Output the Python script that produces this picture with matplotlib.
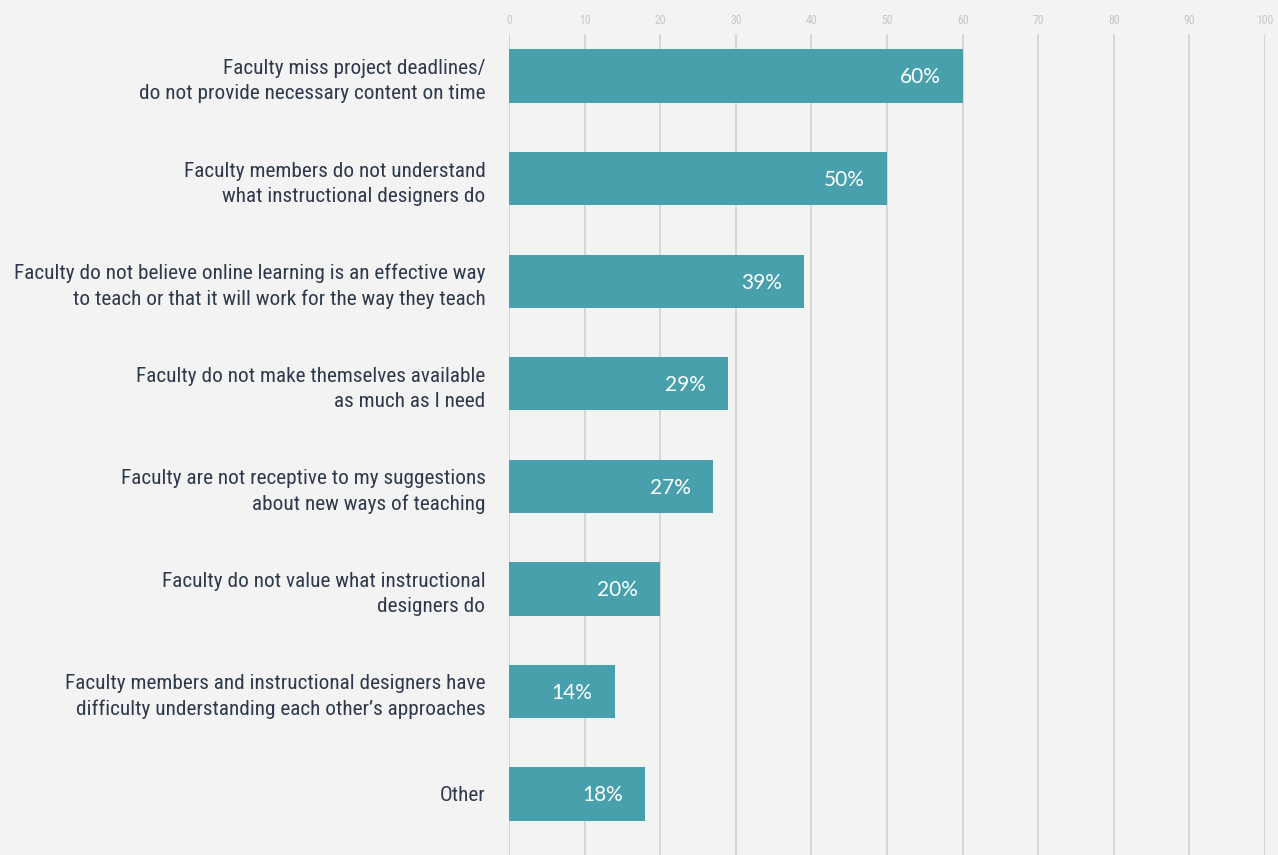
import matplotlib.pyplot as plt
from matplotlib import font_manager

labels = [
    "Faculty miss project deadlines/\ndo not provide necessary content on time",
    "Faculty members do not understand\nwhat instructional designers do",
    "Faculty do not believe online learning is an effective way\nto teach or that it will work for the way they teach",
    "Faculty do not make themselves available\nas much as I need",
    "Faculty are not receptive to my suggestions\nabout new ways of teaching",
    "Faculty do not value what instructional\ndesigners do",
    "Faculty members and instructional designers have\ndifficulty understanding each other\u2019s approaches",
    "Other",
]
values = [60, 50, 39, 29, 27, 20, 14, 18]
ticks = list(range(0, 101, 10))

bg = "#f3f3f3"
bar_color = "#48a0ac"
text_color = "#2e3a4b"
grid_color = "#d2d6d7"

# pick a narrow face for the category labels
names = {f.name for f in font_manager.fontManager.ttflist}
narrow = ["Roboto Condensed", "Liberation Sans Narrow", "Archivo Narrow",
          "PT Sans Narrow", "Open Sans Condensed", "Pragati Narrow"]
label_font = next((n for n in narrow if n in names), "Roboto")
value_font = "Lato" if "Lato" in names else "DejaVu Sans"

fig = plt.figure(figsize=(12.78, 8.55), dpi=100, facecolor=bg)
ax = fig.add_axes([509 / 1278, 0.0, (1265 - 509) / 1278, 1 - 34 / 855])
ax.set_facecolor(bg)

ypos = list(range(len(values)))
ax.barh(ypos, values, height=0.52, color=bar_color, zorder=3)

for y, v in zip(ypos, values):
    ax.annotate(f"{v}%", (v, y), xytext=(-16, -1), textcoords="offset points",
                ha="right", va="center", color="white", fontsize=15,
                family=value_font, zorder=4)

ax.set_xlim(0, 100)
ax.set_ylim(7.595, -0.41)
ax.set_xticks(ticks)
ax.set_xticklabels([str(t) for t in ticks], family=label_font)
ax.xaxis.tick_top()
ax.tick_params(axis="x", length=0, pad=5, labelsize=8.5, labelcolor="#c3c8ca")
ax.set_yticks(ypos)
ax.set_yticklabels(labels, family=label_font, fontsize=17, color=text_color,
                   linespacing=1.4)
ax.tick_params(axis="y", length=0, pad=17)
ax.grid(axis="x", color=grid_color, linewidth=1.3, zorder=0)
for s in ax.spines.values():
    s.set_visible(False)

# scale label size so the widest line spans about 471 px
r = fig.canvas.get_renderer()
widest = 0
for t in ax.get_yticklabels():
    for line in t.get_text().split("\n"):
        probe = fig.text(0, 0, line, family=label_font, fontsize=17)
        widest = max(widest, probe.get_window_extent(r).width)
        probe.remove()
size = 17 * 471 / widest
for t in ax.get_yticklabels():
    t.set_fontsize(size)

fig.savefig("out.png", dpi=100, facecolor=bg)
